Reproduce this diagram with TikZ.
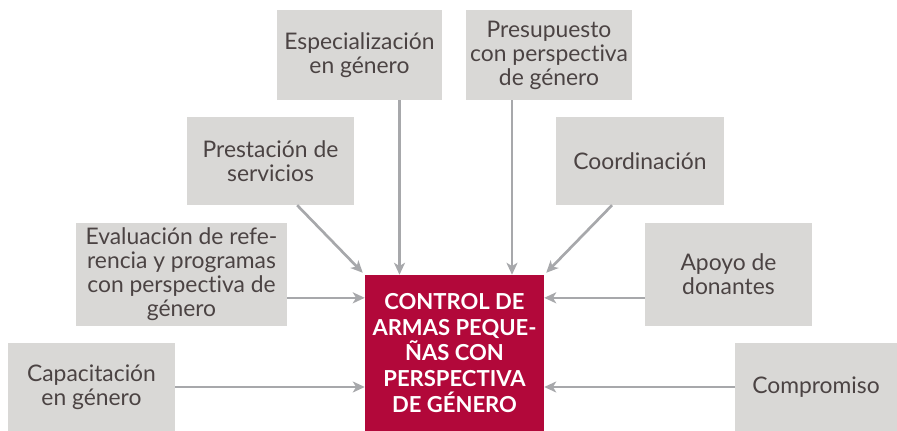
\documentclass[tikz,border=0pt]{standalone}
\usepackage{fontspec}
\setmainfont{Lato}[Ligatures=NoCommon]
\usepackage{tikz}
\usetikzlibrary{arrows.meta}
\definecolor{boxgray}{HTML}{D9D8D6}
\definecolor{txtgray}{HTML}{4B4343}
\definecolor{arrgray}{HTML}{A7A8AB}
\definecolor{ctrlred}{HTML}{B2083A}

\begin{document}
\begin{tikzpicture}[x=0.03cm,y=-0.03cm]
  \tikzstyle{GrayBox}=[fill=boxgray,text=txtgray,align=center,inner sep=0pt,font=\fontsize{19.5}{20.5}\selectfont]
  \tikzstyle{InArrow}=[-{Stealth[length=0.36cm,width=0.33cm,inset=0.1cm]},draw=arrgray,line width=0.08cm]
  \useasboundingbox (0,0) rectangle (897,431);

  % center box
  \node[fill=ctrlred, text=white, align=center, inner sep=0pt,
        minimum width=5.37cm, minimum height=4.68cm,
        font=\fontsize{18.8}{21.8}\selectfont\bfseries] (ctrl) at (454.5,353)
        {CONTROL DE\\ARMAS PEQUE-\\ÑAS CON\\PERSPECTIVA\\DE GÉNERO};

  % top row
  \node[GrayBox, minimum width=4.95cm, minimum height=2.7cm] (esp) at (359.5,55) {Especialización\\en género};
  \node[GrayBox, minimum width=4.98cm, minimum height=2.7cm] (pre) at (549,55) {Presupuesto\\con perspectiva\\de género};

  % second row
  \node[GrayBox, minimum width=5.01cm, minimum height=2.64cm] (pres) at (270.5,161) {Prestación de\\servicios};
  \node[GrayBox, minimum width=5.04cm, minimum height=2.64cm] (coord) at (640,161) {Coordinación};

  % third row
  \node[GrayBox, minimum width=6.33cm, minimum height=3.09cm] (eval) at (181.5,274.5) {Evaluación de refe-\\rencia y programas\\con perspectiva de\\género};
  \node[GrayBox, minimum width=5.01cm, minimum height=3.09cm] (apoyo) at (728.5,274.5) {Apoyo de\\donantes};

  % bottom row
  \node[GrayBox, minimum width=5.01cm, minimum height=2.64cm] (cap) at (91.5,387) {Capacitación\\en género};
  \node[GrayBox, minimum width=4.86cm, minimum height=2.64cm] (comp) at (816,387) {Compromiso};

  % arrows
  \coordinate (e1) at ([xshift=1.2cm]esp.south);
  \coordinate (p1) at ([xshift=-1.11cm]pre.south);
  \coordinate (v1) at ([yshift=-0.7cm]eval.east);
  \coordinate (a1) at ([yshift=-0.7cm]apoyo.west);

  \draw[InArrow] (e1) -> (e1 |- ctrl.north);
  \draw[InArrow] (p1) -> (p1 |- ctrl.north);
  \draw[InArrow] ([xshift=0.8cm]pres.south) -> ([shift={(-0.06cm,0.06cm)}]ctrl.north west);
  \draw[InArrow] ([xshift=-0.84cm]coord.south) -> ([shift={(0.06cm,0.06cm)}]ctrl.north east);
  \draw[InArrow] (v1) -> (v1 -| ctrl.west);
  \draw[InArrow] (a1) -> (a1 -| ctrl.east);
  \draw[InArrow] (cap.east) -> (cap.east -| ctrl.west);
  \draw[InArrow] (comp.west) -> (comp.west -| ctrl.east);

\end{tikzpicture}
\end{document}
